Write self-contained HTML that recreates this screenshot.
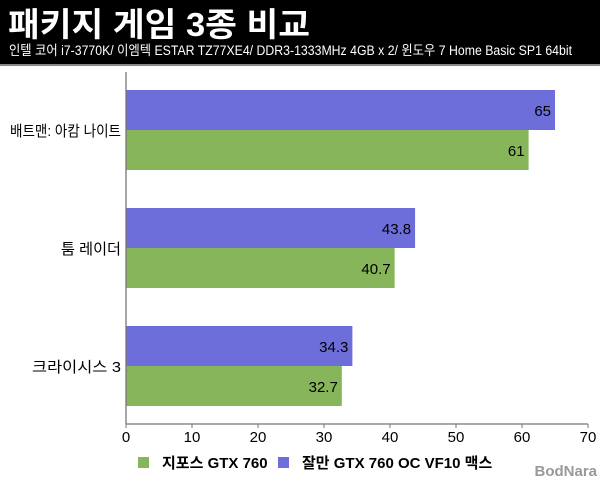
<!DOCTYPE html>
<html><head><meta charset="utf-8">
<style>
body{margin:0;width:600px;height:480px;background:#fff;overflow:hidden;font-family:"Liberation Sans","Noto Sans CJK KR",sans-serif;}
#hdr{position:absolute;left:0;top:0;width:600px;height:64px;background:#000;border-bottom:2px solid #888;}
svg{position:absolute;left:0;top:0}
</style></head><body>
<div id="hdr"></div>
<svg id="chart" width="600" height="480">
<text x="8" y="36" font-size="33" font-weight="bold" fill="#fff" textLength="302" lengthAdjust="spacingAndGlyphs">패키지 게임 3종 비교</text>
<text x="9" y="55" font-size="13.5" fill="#fff" textLength="563" lengthAdjust="spacingAndGlyphs">인텔 코어 i7-3770K/ 이엠텍 ESTAR TZ77XE4/ DDR3-1333MHz 4GB x 2/ 윈도우 7 Home Basic SP1 64bit</text>
</svg>
<script>
const categories=["배트맨: 아캄 나이트","툼 레이더","크라이시스 3"];
const seriesGreen=[61,40.7,32.7];
const seriesPurple=[65,43.8,34.3];
const ticks=[0,10,20,30,40,50,60,70];
const seriesNames=["지포스 GTX 760","잘만 GTX 760 OC VF10 맥스"];
const NS="http://www.w3.org/2000/svg";
const svg=document.getElementById('chart');
const x0=126,x1=588,xmax=70,yTop=72,yBot=424;
const xs=v=>x0+(x1-x0)*v/xmax;
const groupTop=[90,208,326],barH=40;
const labelW=[111,60,89];
function mk(t,a,txt){const e=document.createElementNS(NS,t);for(const k in a)e.setAttribute(k,a[k]);if(txt!==undefined)e.textContent=txt;svg.appendChild(e);return e;}
categories.forEach((c,i)=>{
  const gy=groupTop[i];
  let r=mk('rect',{x:x0,y:gy,width:xs(seriesPurple[i])-x0,height:barH,fill:'#6e6edb'});
  
  
  let t=mk('text',{x:xs(seriesPurple[i])-4,y:gy+barH/2+6,'text-anchor':'end','font-size':'15',fill:'#000'},String(seriesPurple[i]));
  
  
  r=mk('rect',{x:x0,y:gy+barH,width:xs(seriesGreen[i])-x0,height:barH,fill:'#87b55a'});
  
  
  t=mk('text',{x:xs(seriesGreen[i])-4,y:gy+barH*1.5+6,'text-anchor':'end','font-size':'15',fill:'#000'},String(seriesGreen[i]));
  
  
  t=mk('text',{x:121-labelW[i],y:gy+barH+6,'font-size':'15',fill:'#000',textLength:labelW[i],lengthAdjust:'spacingAndGlyphs'},c);
  
  
});
let ax=mk('line',{x1:x0,y1:yTop,x2:x0,y2:yBot,stroke:'#777','stroke-width':1.3});


ax=mk('line',{x1:x0,y1:yBot,x2:x1,y2:yBot,stroke:'#777','stroke-width':1.3});


ticks.forEach(v=>{
  mk('line',{x1:xs(v),y1:yBot,x2:xs(v),y2:yBot+4,stroke:'#777'});
  const t=mk('text',{x:xs(v),y:yBot+18,'text-anchor':'middle','font-size':'15',fill:'#000'},String(v));
  
  
});
const lg=[[138,'#87b55a',seriesNames[0]],[278,'#6e6edb',seriesNames[1]]];
lg.forEach(([x,col,n])=>{
  const r=mk('rect',{x:x,y:457,width:11,height:11,fill:col});
  
  
  const t=mk('text',{x:x+24,y:468,'font-size':'15','font-weight':'bold',fill:'#000'},n);
  
  
});
const wm=mk('text',{x:597,y:476,'text-anchor':'end','font-size':'15','font-weight':'bold',fill:'#999'},'BodNara');


</script>
</body></html>
